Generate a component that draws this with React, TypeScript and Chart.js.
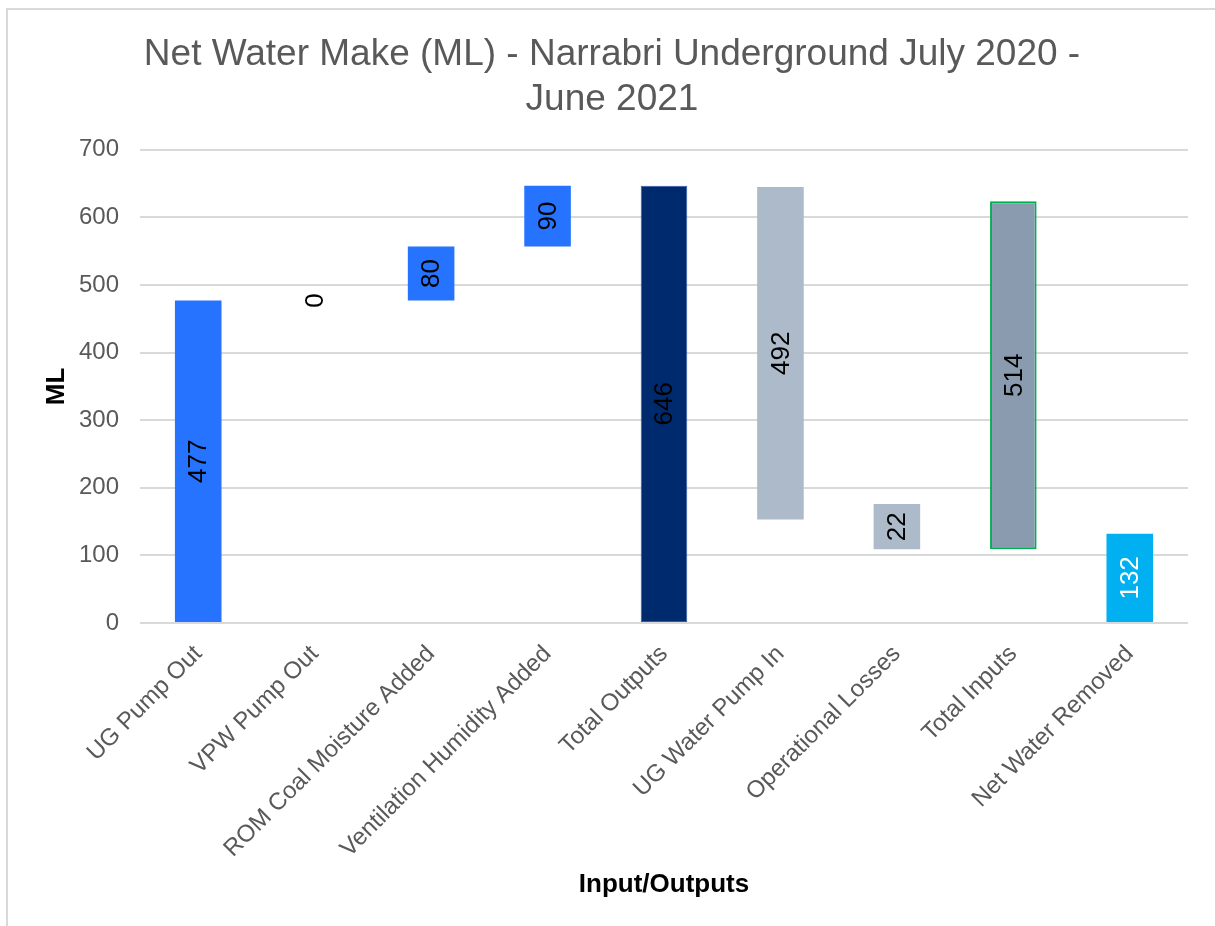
import React, { useEffect, useRef } from "react";
import { Chart, registerables } from "chart.js";

Chart.register(...registerables);

const categories = [
  "UG Pump Out",
  "VPW Pump Out",
  "ROM Coal Moisture Added",
  "Ventilation Humidity Added",
  "Total Outputs",
  "UG Water Pump In",
  "Operational Losses",
  "Total Inputs",
  "Net Water Removed",
];
const barStarts = [0, 477, 477, 557, 0, 153, 109, 109, 0];
const barEnds = [477, 477, 557, 647, 647, 645, 176, 624, 132];
const valueLabels = ["477", "0", "80", "90", "646", "492", "22", "514", "132"];
const barColors = ["#2673FF", "#2673FF", "#2673FF", "#2673FF", "#002A6E", "#ADBACA", "#ADBACA", "#8A9BB0", "#00B0F0"];
const borderColors = ["#2673FF", "#2673FF", "#2673FF", "#2673FF", "#2E5AA8", "#ADBACA", "#ADBACA", "#00B050", "#00B0F0"];
const borderWidths = [0, 0, 0, 0, 1, 0, 0, 2, 0];
const labelColors = ["#000", "#000", "#000", "#000", "#000", "#000", "#000", "#000", "#FFF"];
const yTicks = [0, 100, 200, 300, 400, 500, 600, 700];

const FONT = "'Liberation Sans', Arial, sans-serif";

const valueLabelPlugin = {
  id: "valueLabels",
  afterDatasetsDraw(chart: any) {
    const ctx = chart.ctx;
    const meta = chart.getDatasetMeta(0);
    meta.data.forEach((el: any, i: number) => {
      const cx = el.x;
      const cy = (el.y + el.base) / 2;
      ctx.save();
      ctx.translate(cx, cy);
      ctx.rotate(-Math.PI / 2);
      ctx.font = `26px ${FONT}`;
      ctx.fillStyle = labelColors[i];
      ctx.textAlign = "center";
      ctx.textBaseline = "middle";
      ctx.fillText(valueLabels[i], 0, 1);
      ctx.restore();
    });
  },
};

export default function App() {
  const ref = useRef<HTMLCanvasElement>(null);
  useEffect(() => {
    if (!ref.current) return;
    const chart = new Chart(ref.current, {
      type: "bar",
      data: {
        labels: categories,
        datasets: [
          {
            data: categories.map((_, i) => [barStarts[i], barEnds[i]]) as any,
            backgroundColor: barColors,
            borderColor: borderColors,
            borderWidth: borderWidths,
            borderSkipped: false,
            barPercentage: 0.4,
            categoryPercentage: 1,
          },
        ],
      },
      options: {
        responsive: false,
        animation: false,
        devicePixelRatio: 1,
        layout: { padding: { left: 36, right: 27, top: 0, bottom: 0 } },
        plugins: {
          legend: { display: false },
          tooltip: { enabled: false },
          title: {
            display: true,
            text: ["Net Water Make (ML) - Narrabri Underground July 2020 -", "June 2021"],
            color: "#595959",
            font: { family: FONT, size: 37, weight: "normal", lineHeight: 1.2 },
            padding: { top: 33, bottom: 28 },
          },
        },
        scales: {
          x: {
            grid: { display: false },
            border: { display: false },
            ticks: {
              color: "#595959",
              font: { family: FONT, size: 24 },
              minRotation: 45,
              maxRotation: 45,
              autoSkip: false,
              padding: 9,
            },
            title: {
              display: true,
              text: "Input/Outputs",
              color: "#000",
              font: { family: FONT, size: 26, weight: "bold", lineHeight: 1.2 },
              padding: { top: 0, bottom: 26 },
            },
            afterFit: (scale: any) => {
              scale.height = 303;
            },
          },
          y: {
            min: 0,
            max: 700,
            afterBuildTicks: (scale: any) => {
              scale.ticks = yTicks.map((v) => ({ value: v }));
            },
            grid: { color: "#D9D9D9", lineWidth: 2, drawTicks: false },
            border: { display: false },
            ticks: {
              color: "#595959",
              font: { family: FONT, size: 24 },
              padding: 21,
            },
            title: {
              display: true,
              text: "ML",
              color: "#000",
              font: { family: FONT, size: 26, weight: "bold", lineHeight: 1.2 },
              padding: { top: 5, bottom: 0 },
            },
            afterFit: (scale: any) => {
              scale.width = 104;
            },
          },
        },
      },
      plugins: [valueLabelPlugin],
    });
    return () => chart.destroy();
  }, []);

  return (
    <div
      style={{
        position: "fixed",
        left: 0,
        top: 0,
        width: 1215,
        height: 926,
        overflow: "hidden",
        background: "#fff",
      }}
    >
      <div
        style={{
          position: "absolute",
          left: 6,
          top: 8,
          width: 1400,
          height: 1100,
          border: "2px solid #D9D9D9",
          boxSizing: "border-box",
        }}
      />
      <canvas
        ref={ref}
        width={1215}
        height={926}
        style={{ position: "absolute", left: 0, top: 0, width: 1215, height: 926 }}
      />
    </div>
  );
}
